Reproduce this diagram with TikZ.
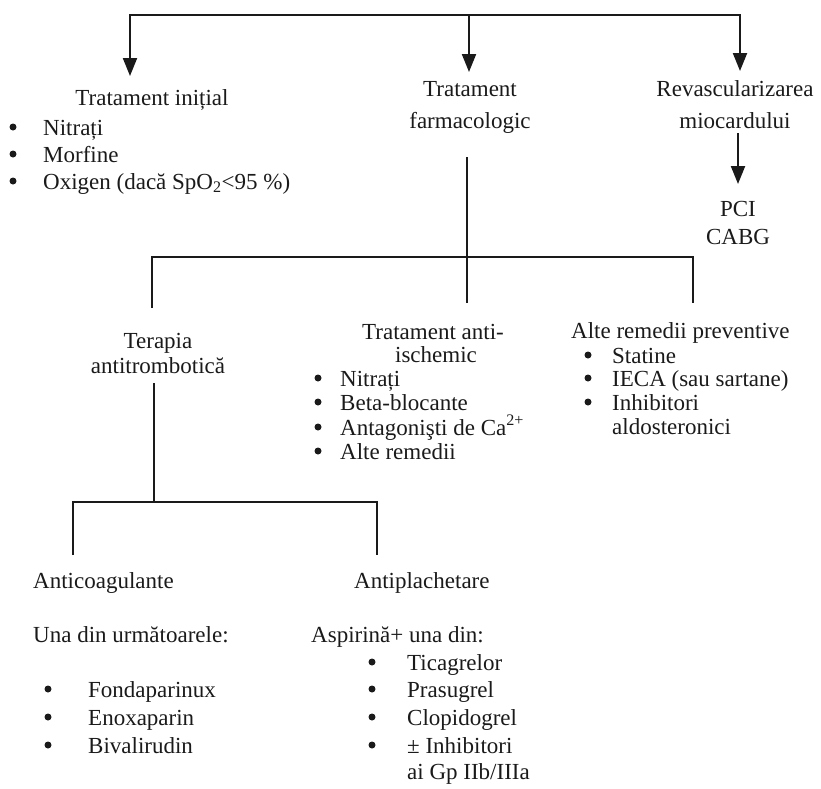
\documentclass[tikz,border=0pt]{standalone}
\usepackage{fontspec}
\setmainfont{Liberation Serif}
\usetikzlibrary{arrows.meta}
\definecolor{ink}{HTML}{1A1A1A}
\tikzset{
  head/.style={inner sep=0pt, anchor=base, text=ink},
  item/.style={inner sep=0pt, anchor=base west, text=ink},
  dot/.style={circle, fill=ink, inner sep=0pt, minimum size=7pt},
  wire/.style={line width=2.1pt, draw=ink},
  tip/.style={-{Triangle[length=18pt,width=14pt]}},
  arr/.style={wire, tip}
}
\begin{document}
\begin{tikzpicture}[x=1pt,y=-1pt,font=\fontsize{23}{26}\selectfont]
\useasboundingbox (0,0) rectangle (821,788);

% top level headings
\node[head] (init) at (152,105) {Tratament inițial};
\node[head] (farm1) at (470,96) {Tratament};
\node[head] (farm2) at (470,128) {farmacologic};
\node[head] (rev1) at (735,96) {Revascularizarea};
\node[head] (rev2) at (735,128) {miocardului};
\node[head] (pci) at (738,216) {PCI};
\node[head] (cabg) at (738,244) {CABG};

% initial treatment list
\node[dot] (b11) at (13,127) {};
\node[dot] (b12) at (13,154) {};
\node[dot] (b13) at (13,181) {};
\node[item] (i11) at (43,135) {Nitrați};
\node[item] (i12) at (43,162) {Morfine};
\node[item] (i13) at (43,189) {Oxigen (dacă SpO\textsubscript{2}<95 \%)};

% second level headings
\node[head] (ter1) at (158,348) {Terapia};
\node[head] (ter2) at (158,373) {antitrombotică};
\node[head] (isc1) at (433,339) {Tratament anti-};
\node[head] (isc2) at (436,362) {ischemic};
\node[item] (alt) at (571,338) {Alte remedii preventive};

% anti-ischemic list
\node[dot] (b21) at (318,378) {};
\node[dot] (b22) at (318,402) {};
\node[dot] (b23) at (318,427) {};
\node[dot] (b24) at (318,451) {};
\node[item] (i21) at (340,386) {Nitrați};
\node[item] (i22) at (340,410) {Beta-blocante};
\node[item] (i23) at (340,435) {Antagonişti de Ca\textsuperscript{2+}};
\node[item] (i24) at (340,459) {Alte remedii};

% preventive list
\node[dot] (b31) at (588,355) {};
\node[dot] (b32) at (588,378) {};
\node[dot] (b33) at (588,402) {};
\node[item] (i31) at (612,363) {Statine};
\node[item] (i32) at (612,386) {IECA (sau sartane)};
\node[item] (i33) at (612,410) {Inhibitori};
\node[item] (i34) at (612,434) {aldosteronici};

% third level
\node[item] (anc) at (33,588) {Anticoagulante};
\node[item] (anp) at (354,588) {Antiplachetare};
\node[item] (una) at (33,642) {Una din următoarele:};
\node[item] (asp) at (311,642) {Aspirină+ una din:};

\node[dot] (b41) at (48,689) {};
\node[dot] (b42) at (48,717) {};
\node[dot] (b43) at (48,745) {};
\node[item] (i41) at (88,697) {Fondaparinux};
\node[item] (i42) at (88,725) {Enoxaparin};
\node[item] (i43) at (88,753) {Bivalirudin};

\node[dot] (b51) at (372,662) {};
\node[dot] (b52) at (372,689) {};
\node[dot] (b53) at (372,717) {};
\node[dot] (b54) at (372,745) {};
\node[item] (i51) at (407,670) {Ticagrelor};
\node[item] (i52) at (407,697) {Prasugrel};
\node[item] (i53) at (407,725) {Clopidogrel};
\node[item] (i54) at (407,753) {± Inhibitori};
\node[item] (i55) at (407,779) {ai Gp IIb/IIIa};

% junction points of the tree
\coordinate (t1) at (130,15);
\coordinate (t2) at (469,15);
\coordinate (t3) at (740,15);
\coordinate (a1) at (130,76);
\coordinate (a2) at (469,72);
\coordinate (a3) at (740,71);
\coordinate (r1) at (738,133);
\coordinate (r2) at (738,184);
\coordinate (m0) at (467,157);
\coordinate (m1) at (467,303);
\coordinate (h1) at (152,257);
\coordinate (h3) at (693,257);
\coordinate (h1d) at (152,308);
\coordinate (h3d) at (693,303);
\coordinate (s0) at (154,383);
\coordinate (s1) at (154,502);
\coordinate (k1) at (73,502);
\coordinate (k3) at (377,502);
\coordinate (k1d) at (73,555);
\coordinate (k3d) at (377,555);

% connectors
\draw[wire, {Triangle[length=18pt,width=14pt]}-{Triangle[length=18pt,width=14pt]}]
  (a1) -- (t1) -- (t3) -- (a3);
\draw[arr] (t2) -- (a2);
\draw[arr] (r1) -- (r2);
\draw[wire] (m0) -- (m1);
\draw[wire] (h1d) -- (h1) -- (h3) -- (h3d);
\draw[wire] (s0) -- (s1);
\draw[wire] (k1d) -- (k1) -- (k3) -- (k3d);
\end{tikzpicture}
\end{document}
